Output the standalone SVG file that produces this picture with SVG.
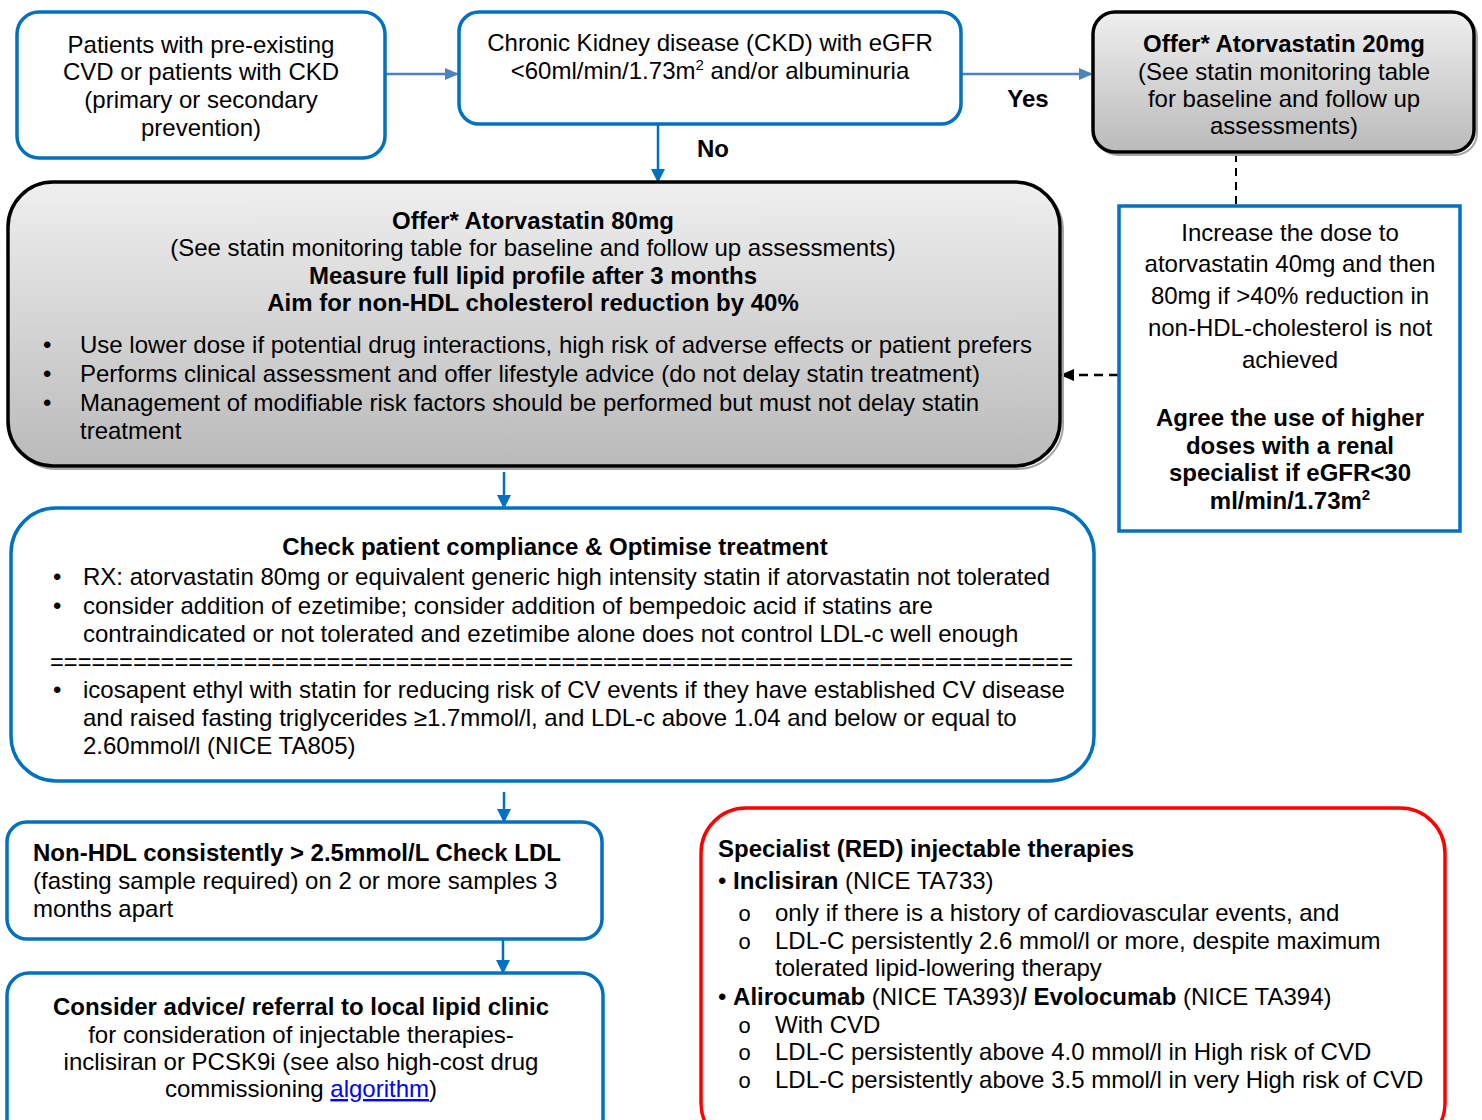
<svg xmlns="http://www.w3.org/2000/svg" width="1482" height="1120" viewBox="0 0 1482 1120">
<defs>
<linearGradient id="grey" x1="0" y1="0" x2="0" y2="1">
<stop offset="0" stop-color="#efefef"/>
<stop offset="1" stop-color="#bababa"/>
</linearGradient>
<marker id="ab" markerWidth="14" markerHeight="14" refX="12" refY="7" orient="auto" markerUnits="userSpaceOnUse">
<path d="M0,0 L14,7 L0,14 z" fill="#0070c0"/>
</marker>
<marker id="al" markerWidth="14" markerHeight="12" refX="12" refY="6" orient="auto" markerUnits="userSpaceOnUse">
<path d="M0,0 L14,6 L0,12 z" fill="#4f81bd"/>
</marker>
<marker id="ak" markerWidth="14" markerHeight="12" refX="12" refY="6" orient="auto" markerUnits="userSpaceOnUse">
<path d="M0,0 L14,6 L0,12 z" fill="#000"/>
</marker>
</defs>
<style>
text{font-family:"Liberation Sans",Arial,sans-serif;font-size:24px;fill:#000}
.c{text-anchor:middle}
.b{font-weight:bold}
.o{font-family:"Liberation Mono","Courier New",monospace;font-size:22px}
.blue{fill:#fff;stroke:#0070c0;stroke-width:3.5}
.gbox{fill:url(#grey);stroke:#000;stroke-width:3.5}
.shadow{fill:none;stroke:#a6a6a6;stroke-width:2}
.red{fill:#fff;stroke:#ff0000;stroke-width:3.5}
.sup{font-size:15px}
.link{fill:#0000ff;text-decoration:underline}
</style>
<rect width="1482" height="1120" fill="#fff"/>

<g id="connectors">
<line x1="386" y1="74" x2="457" y2="74" stroke="#4f81bd" stroke-width="2.5" marker-end="url(#al)"/>
<line x1="962" y1="74" x2="1091" y2="74" stroke="#4f81bd" stroke-width="2.5" marker-end="url(#al)"/>
<line x1="658" y1="125" x2="658" y2="181" stroke="#0070c0" stroke-width="2.5" marker-end="url(#ab)"/>
<line x1="1236" y1="154" x2="1236" y2="205" stroke="#000" stroke-width="2" stroke-dasharray="8,6"/>
<line x1="1118" y1="375" x2="1062" y2="375" stroke="#000" stroke-width="2.5" stroke-dasharray="9,6" marker-end="url(#ak)"/>
<line x1="504" y1="472" x2="504" y2="507" stroke="#0070c0" stroke-width="2.5" marker-end="url(#ab)"/>
<line x1="504" y1="792" x2="504" y2="821" stroke="#0070c0" stroke-width="2.5" marker-end="url(#ab)"/>
<line x1="503" y1="940" x2="503" y2="972" stroke="#0070c0" stroke-width="2.5" marker-end="url(#ab)"/>
<text x="1028" y="107" class="c b">Yes</text>
<text x="713" y="157" class="c b">No</text>
</g>

<g id="n-patients">
<rect x="17" y="12" width="368" height="146" rx="22" class="blue"/>
<text x="201" y="53" class="c">Patients with pre-existing</text>
<text x="201" y="80" class="c">CVD or patients with CKD</text>
<text x="201" y="108" class="c">(primary or secondary</text>
<text x="201" y="136" class="c">prevention)</text>
</g>

<g id="n-ckd">
<rect x="459" y="12" width="502" height="112" rx="20" class="blue"/>
<text x="710" y="51" class="c">Chronic Kidney disease (CKD) with eGFR</text>
<text x="710" y="79" class="c">&lt;60ml/min/1.73m<tspan class="sup" dy="-9">2</tspan><tspan dy="9"> and/or albuminuria</tspan></text>
</g>

<g id="n-atorva20">
<rect x="1096" y="15" width="381" height="140" rx="22" class="shadow"/>
<rect x="1093" y="12" width="381" height="140" rx="22" class="gbox"/>
<text x="1284" y="52" class="c b">Offer* Atorvastatin 20mg</text>
<text x="1284" y="80" class="c">(See statin monitoring table</text>
<text x="1284" y="107" class="c">for baseline and follow up</text>
<text x="1284" y="134" class="c">assessments)</text>
</g>

<g id="n-atorva80">
<rect x="11" y="185" width="1052" height="284" rx="45" class="shadow"/>
<rect x="8" y="182" width="1052" height="284" rx="45" class="gbox"/>
<text x="533" y="229" class="c b">Offer* Atorvastatin 80mg</text>
<text x="533" y="256" class="c">(See statin monitoring table for baseline and follow up assessments)</text>
<text x="533" y="284" class="c b">Measure full lipid profile after 3 months</text>
<text x="533" y="311" class="c b">Aim for non-HDL cholesterol reduction by 40%</text>
<text x="43" y="353">•</text>
<text x="80" y="353">Use lower dose if potential drug interactions, high risk of adverse effects or patient prefers</text>
<text x="43" y="382">•</text>
<text x="80" y="382">Performs clinical assessment and offer lifestyle advice (do not delay statin treatment)</text>
<text x="43" y="411">•</text>
<text x="80" y="411">Management of modifiable risk factors should be performed but must not delay statin</text>
<text x="80" y="439">treatment</text>
</g>

<g id="n-increase">
<rect x="1119" y="206" width="341" height="325" class="blue"/>
<text x="1290" y="241" class="c">Increase the dose to</text>
<text x="1290" y="272" class="c">atorvastatin 40mg and then</text>
<text x="1290" y="304" class="c">80mg if &gt;40% reduction in</text>
<text x="1290" y="336" class="c">non-HDL-cholesterol is not</text>
<text x="1290" y="368" class="c">achieved</text>
<text x="1290" y="426" class="c b">Agree the use of higher</text>
<text x="1290" y="454" class="c b">doses with a renal</text>
<text x="1290" y="481" class="c b">specialist if eGFR&lt;30</text>
<text x="1290" y="509" class="c b">ml/min/1.73m<tspan class="sup" dy="-9">2</tspan></text>
</g>

<g id="n-compliance">
<rect x="11" y="508" width="1083" height="273" rx="45" class="blue"/>
<text x="555" y="555" class="c b">Check patient compliance &amp; Optimise treatment</text>
<text x="53" y="585">•</text>
<text x="83" y="585">RX: atorvastatin 80mg or equivalent generic high intensity statin if atorvastatin not tolerated</text>
<text x="53" y="614">•</text>
<text x="83" y="614">consider addition of ezetimibe; consider addition of bempedoic acid if statins are</text>
<text x="83" y="642">contraindicated or not tolerated and ezetimibe alone does not control LDL-c well enough</text>
<text x="50" y="670" textLength="1023" lengthAdjust="spacingAndGlyphs">==========================================================================</text>
<text x="53" y="698">•</text>
<text x="83" y="698">icosapent ethyl with statin for reducing risk of CV events if they have established CV disease</text>
<text x="83" y="726">and raised fasting triglycerides ≥1.7mmol/l, and LDL-c above 1.04 and below or equal to</text>
<text x="83" y="754">2.60mmol/l (NICE TA805)</text>
</g>

<g id="n-nonhdl">
<rect x="7" y="822" width="595" height="117" rx="20" class="blue"/>
<text x="33" y="861" class="b">Non-HDL consistently &gt; 2.5mmol/L Check LDL</text>
<text x="33" y="889">(fasting sample required) on 2 or more samples 3</text>
<text x="33" y="917">months apart</text>
</g>

<g id="n-referral">
<rect x="7" y="973" width="596" height="170" rx="22" class="blue"/>
<text x="301" y="1015" class="c b">Consider advice/ referral to local lipid clinic</text>
<text x="301" y="1043" class="c">for consideration of injectable therapies-</text>
<text x="301" y="1070" class="c">inclisiran or PCSK9i (see also high-cost drug</text>
<text x="301" y="1097" class="c">commissioning <tspan class="link">algorithm</tspan>)</text>
</g>

<g id="n-specialist">
<rect x="701" y="808" width="744" height="340" rx="45" class="red"/>
<text x="718" y="857" class="b">Specialist (RED) injectable therapies</text>
<text x="718" y="889">• <tspan class="b">Inclisiran</tspan> (NICE TA733)</text>
<text x="738" y="921" class="o">o</text>
<text x="775" y="921">only if there is a history of cardiovascular events, and</text>
<text x="738" y="949" class="o">o</text>
<text x="775" y="949">LDL-C persistently 2.6 mmol/l or more, despite maximum</text>
<text x="775" y="976">tolerated lipid-lowering therapy</text>
<text x="718" y="1005">• <tspan class="b">Alirocumab</tspan> (NICE TA393)<tspan class="b">/ Evolocumab</tspan> (NICE TA394)</text>
<text x="738" y="1033" class="o">o</text>
<text x="775" y="1033">With CVD</text>
<text x="738" y="1060" class="o">o</text>
<text x="775" y="1060">LDL-C persistently above 4.0 mmol/l in High risk of CVD</text>
<text x="738" y="1088" class="o">o</text>
<text x="775" y="1088">LDL-C persistently above 3.5 mmol/l in very High risk of CVD</text>
</g>
</svg>
